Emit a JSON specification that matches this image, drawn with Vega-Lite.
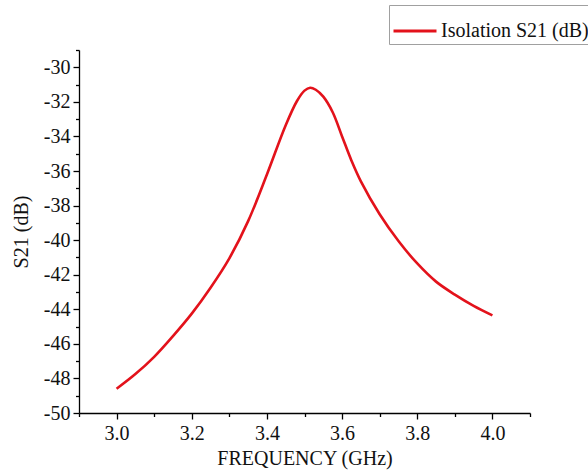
{
  "$schema": "https://vega.github.io/schema/vega-lite/v6.json",
  "width": 451,
  "height": 363,
  "autosize": {"type": "none"},
  "padding": {"left": 79, "top": 50, "right": 58, "bottom": 61},
  "background": "white",
  "config": {
    "view": {"stroke": null},
    "font": "Liberation Serif",
    "axis": {
      "grid": false,
      "domainColor": "#000000",
      "domainWidth": 1.3,
      "tickColor": "#000000",
      "tickWidth": 1.3,
      "labelFont": "Liberation Serif",
      "labelFontSize": 20,
      "labelColor": "#111111",
      "titleFont": "Liberation Serif",
      "titleFontSize": 20,
      "titleFontWeight": "normal",
      "titleColor": "#111111"
    }
  },
  "data": {
    "values": [
      {"f": 3.00, "s21": -48.6, "series": "Isolation S21 (dB)"},
      {"f": 3.05, "s21": -47.75, "series": "Isolation S21 (dB)"},
      {"f": 3.10, "s21": -46.75, "series": "Isolation S21 (dB)"},
      {"f": 3.15, "s21": -45.55, "series": "Isolation S21 (dB)"},
      {"f": 3.20, "s21": -44.25, "series": "Isolation S21 (dB)"},
      {"f": 3.25, "s21": -42.75, "series": "Isolation S21 (dB)"},
      {"f": 3.30, "s21": -41.05, "series": "Isolation S21 (dB)"},
      {"f": 3.35, "s21": -38.9, "series": "Isolation S21 (dB)"},
      {"f": 3.40, "s21": -36.2, "series": "Isolation S21 (dB)"},
      {"f": 3.45, "s21": -33.35, "series": "Isolation S21 (dB)"},
      {"f": 3.48, "s21": -31.95, "series": "Isolation S21 (dB)"},
      {"f": 3.50, "s21": -31.35, "series": "Isolation S21 (dB)"},
      {"f": 3.515, "s21": -31.18, "series": "Isolation S21 (dB)"},
      {"f": 3.53, "s21": -31.3, "series": "Isolation S21 (dB)"},
      {"f": 3.55, "s21": -31.7, "series": "Isolation S21 (dB)"},
      {"f": 3.575, "s21": -32.6, "series": "Isolation S21 (dB)"},
      {"f": 3.60, "s21": -34.0, "series": "Isolation S21 (dB)"},
      {"f": 3.625, "s21": -35.4, "series": "Isolation S21 (dB)"},
      {"f": 3.65, "s21": -36.6, "series": "Isolation S21 (dB)"},
      {"f": 3.70, "s21": -38.5, "series": "Isolation S21 (dB)"},
      {"f": 3.75, "s21": -40.05, "series": "Isolation S21 (dB)"},
      {"f": 3.80, "s21": -41.35, "series": "Isolation S21 (dB)"},
      {"f": 3.85, "s21": -42.4, "series": "Isolation S21 (dB)"},
      {"f": 3.90, "s21": -43.15, "series": "Isolation S21 (dB)"},
      {"f": 3.95, "s21": -43.8, "series": "Isolation S21 (dB)"},
      {"f": 4.00, "s21": -44.35, "series": "Isolation S21 (dB)"}
    ]
  },
  "layer": [
    {
      "mark": {"type": "line", "interpolate": "catmull-rom", "strokeWidth": 2.6},
      "encoding": {
        "x": {
          "field": "f", "type": "quantitative",
          "scale": {"domain": [2.9, 4.1], "nice": false, "zero": false},
          "axis": {
            "title": "FREQUENCY (GHz)",
            "values": [3.0, 3.2, 3.4, 3.6, 3.8, 4.0],
            "format": ".1f",
            "tickSize": 6,
            "labelPadding": 4,
            "titlePadding": 5
          }
        },
        "y": {
          "field": "s21", "type": "quantitative",
          "scale": {"domain": [-50, -29], "nice": false, "zero": false},
          "axis": {
            "title": "S21 (dB)",
            "values": [-50, -48, -46, -44, -42, -40, -38, -36, -34, -32, -30],
            "labelExpr": "'' + datum.value",
            "tickSize": 6,
            "labelPadding": 3,
            "titlePadding": 12
          }
        },
        "color": {
          "field": "series", "type": "nominal",
          "scale": {"range": ["#e3121b"]},
          "legend": {
            "title": null,
            "orient": "none",
            "legendX": 310,
            "legendY": -45,
            "symbolType": "stroke",
            "symbolSize": 1849,
            "symbolStrokeWidth": 3,
            "labelFont": "Liberation Serif",
            "labelFontSize": 20,
            "labelColor": "#111111",
            "labelOffset": 3,
            "padding": 3,
            "fillColor": "white",
            "strokeColor": "#a0a0a0"
          }
        }
      }
    },
    {
      "mark": {"type": "line", "strokeOpacity": 0},
      "encoding": {
        "x": {
          "field": "f", "type": "quantitative",
          "axis": {
            "orient": "bottom",
            "title": null,
            "values": [2.9, 3.1, 3.3, 3.5, 3.7, 3.9, 4.1],
            "labels": false,
            "domain": false,
            "tickSize": 3.5
          }
        },
        "y": {
          "field": "s21", "type": "quantitative",
          "axis": {
            "orient": "left",
            "title": null,
            "values": [-49, -47, -45, -43, -41, -39, -37, -35, -33, -31, -29],
            "labels": false,
            "domain": false,
            "tickSize": 3.5
          }
        }
      }
    }
  ],
  "resolve": {"axis": {"x": "independent", "y": "independent"}}
}
